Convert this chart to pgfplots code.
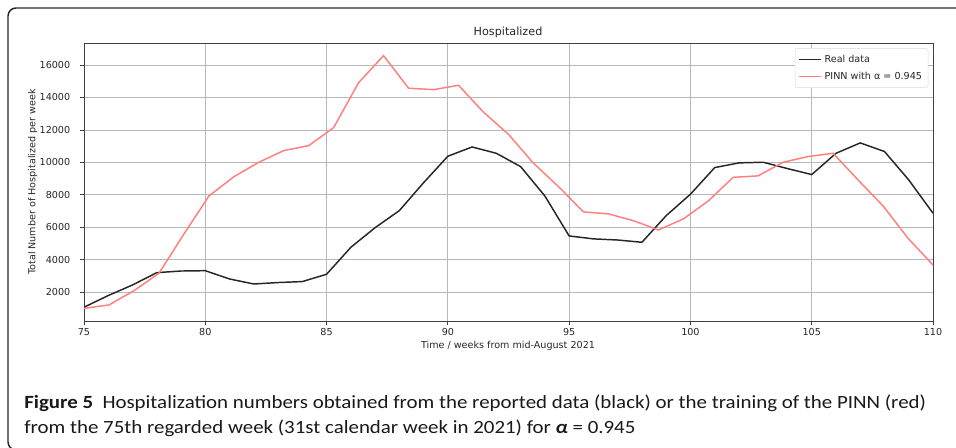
\documentclass[border=0pt]{standalone}
\usepackage{fontspec}
\usepackage{pgfplots}
\pgfplotsset{compat=1.18}
\setmainfont{DejaVu Sans}
\newfontfamily\capfont[FakeStretch=1.12]{Carlito}
\definecolor{pinn}{HTML}{FF7F7F}
\definecolor{realc}{HTML}{262626}
\definecolor{gridc}{HTML}{B8B8B8}
\begin{document}
\begin{tikzpicture}
\clip (0,0) rectangle (717pt,336pt);
\path[use as bounding box] (0,0) rectangle (717pt,336pt);
\draw[line width=1.1pt, color=black!85, rounded corners=6pt] (6pt,330pt) rectangle (760pt,-1.5pt);
\begin{axis}[
  at={(63pt,95.25pt)}, anchor=south west,
  width=636.75pt, height=208.5pt, scale only axis,
  xmin=75, xmax=110, ymin=232, ymax=17355,
  xtick={75,80,...,110}, ytick={2000,4000,...,16000},
  scaled y ticks=false, scaled x ticks=false,
  grid=major, major grid style={color=gridc, line width=0.6pt},
  axis line style={color=black!75, line width=0.7pt},
  tick align=outside, major tick length=3.3pt,
  tick style={color=black!75, line width=0.6pt},
  xtick pos=bottom, ytick pos=left,
  /pgf/number format/assume math mode=true,
  /pgf/number format/1000 sep={},
  tick label style={font=\fontsize{7.2}{8}\selectfont, color=black!85},
  xticklabel style={yshift=1pt},
  yticklabel style={xshift=-3.5pt},
  legend style={at={(1,1)}, anchor=north east, xshift=-3.5pt, yshift=-3.8pt,
    draw=black!15, rounded corners=2pt, fill=white,
    font=\fontsize{7.2}{8.6}\selectfont, text=black!85,
    row sep=1.6pt, inner xsep=2.5pt, inner ysep=3pt},
  legend cell align=left,
  legend image code/.code={\draw[#1, line width=1.1pt] (0cm,0cm) -- (0.58cm,0cm);},
]
\addplot[color=realc, line width=1.1pt] coordinates {
(75,1080) (76,1800) (77,2450) (78,3210) (79,3310) (80,3330) (81,2820) (82,2510)
(83,2600) (84,2660) (85,3110) (86,4770) (87,5980) (88,7030) (89,8750) (90,10380)
(91,10950) (92,10560) (93,9740) (94,7930) (95,5470) (96,5290) (97,5220) (98,5080)
(99,6720) (100,8040) (101,9680) (102,9970) (103,10010) (104,9620) (105,9250)
(106,10560) (107,11200) (108,10670) (109,8920) (110,6870)};
\addlegendentry{Real data}
\addplot[color=pinn, line width=1.1pt] coordinates {
(75.00,1010) (76.03,1220) (77.06,2100) (78.09,3170) (79.12,5590) (80.15,7930)
(81.18,9120) (82.21,10010) (83.24,10730) (84.26,11030) (85.29,12140) (86.32,14910)
(87.35,16576) (88.38,14570) (89.41,14480) (90.44,14750) (91.47,13090) (92.50,11730)
(93.53,9950) (94.56,8510) (95.59,6950) (96.62,6830) (97.65,6410) (98.68,5840)
(99.71,6520) (100.74,7630) (101.76,9080) (102.79,9170) (103.82,10010) (104.85,10360)
(105.88,10560) (106.91,8920) (107.94,7320) (108.97,5330) (110.00,3680)};
\addlegendentry{PINN with α = 0.945}
\end{axis}
\node[anchor=base, font=\fontsize{8.4}{10}\selectfont, text=black!85] at (381pt,309pt) {Hospitalized};
\node[anchor=base, font=\fontsize{7.2}{8}\selectfont, text=black!85] at (381pt,74.25pt) {Time / weeks from mid-August 2021};
\node[anchor=base, rotate=90, font=\fontsize{7.2}{8}\selectfont, text=black!85] at (26.5pt,199.5pt) {Total Number of Hospitalized per week};
\node[anchor=base west, inner sep=0pt, font=\capfont\fontsize{14}{16}\selectfont, text=black!90] at (18pt,29.25pt) {{\bfseries Figure 5}\hspace{0.5em}Hospitalization numbers obtained from the reported data (black) or the training of the PINN (red)};
\node[anchor=base west, inner sep=0pt, font=\capfont\fontsize{14}{16}\selectfont, text=black!90] at (18pt,10.5pt) {from the 75th regarded week (31st calendar week in 2021) for {\bfseries\itshape α} = 0.945};
\end{tikzpicture}
\end{document}
